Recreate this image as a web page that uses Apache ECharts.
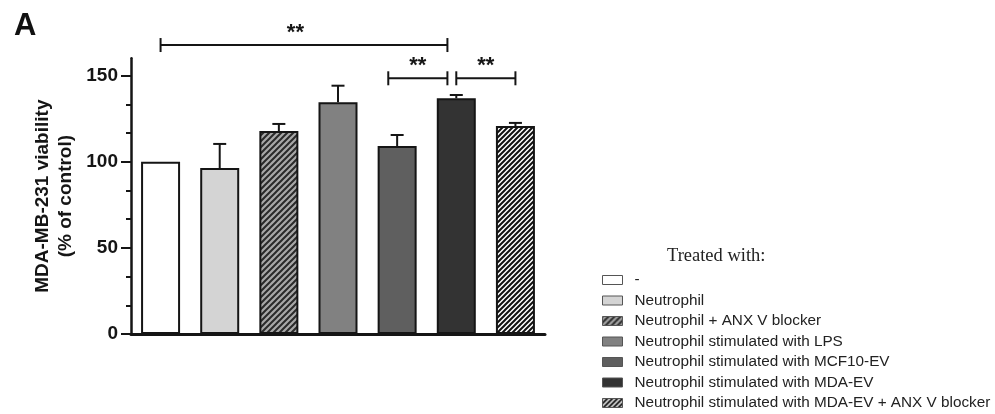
<!DOCTYPE html>
<html><head><meta charset="utf-8">
<script src="https://cdn.jsdelivr.net/npm/echarts@6/dist/echarts.min.js"></script>
<style>html,body{margin:0;padding:0;background:#fff}#c{width:995px;height:414px}</style>
</head><body><div id="c"></div>
<script>
const categories = ['-', 'Neutrophil', 'Neutrophil + ANX V blocker', 'Neutrophil stimulated with LPS', 'Neutrophil stimulated with MCF10-EV', 'Neutrophil stimulated with MDA-EV', 'Neutrophil stimulated with MDA-EV + ANX V blocker'];
const means = [100, 96.3, 117.8, 134.5, 109.1, 136.8, 120.7];
const errors = [null, 14.0, 4.1, 9.6, 6.4, 1.9, 1.8];
const yMajorTicks = [0, 50, 100, 150];
const yMinorTicks = [16.67, 33.33, 66.67, 83.33, 116.67, 133.33];
// [fromIndex, toIndex, y, labelIndex]
const brackets = [
  [0, 4.85, 167.7, 2.28],
  [3.85, 4.85, 148.4, 4.35],
  [5, 6, 148.4, 5.5]
];
const bracketLabels = ['**', '**', '**'];

function hatch(bg, fg, size, lw) {
  const c = document.createElement('canvas');
  c.width = c.height = size;
  const g = c.getContext('2d');
  g.fillStyle = bg; g.fillRect(0, 0, size, size);
  g.strokeStyle = fg; g.lineWidth = lw;
  g.beginPath();
  g.moveTo(-lw, lw); g.lineTo(lw, -lw);
  g.moveTo(-lw, size + lw); g.lineTo(size + lw, -lw);
  g.moveTo(size - lw, size + lw); g.lineTo(size + lw, size - lw);
  g.stroke();
  return { image: c, repeat: 'repeat' };
}
const fills = ['#ffffff', '#d4d4d4', hatch('#a8a8a8', '#2a2a2a', 6, 2), '#818181', '#5f5f5f', '#333333', hatch('#ffffff', '#111111', 5, 2)];
const ink = '#151515';
const FONT = 'Liberation Sans, Arial, sans-serif';

const barSeries = categories.map((name, i) => ({
  name, type: 'bar', stack: 'all', barWidth: 39, silent: true,
  data: means.map((v, j) => (j === i ? v : '-')),
  itemStyle: { color: fills[i], borderColor: ink, borderWidth: 2 }
}));

const errData = [];
means.forEach((v, i) => { if (errors[i] != null) errData.push([i, v, v + errors[i]]); });

const errSeries = {
  type: 'custom', silent: true, z: 5, data: errData,
  encode: { x: 0, y: [1, 2] },
  renderItem: (params, api) => {
    const b = api.coord([api.value(0), api.value(1)]);
    const t = api.coord([api.value(0), api.value(2)]);
    return { type: 'group', children: [
      { type: 'line', shape: { x1: b[0], y1: b[1], x2: t[0], y2: t[1] }, style: { stroke: ink, lineWidth: 2 } },
      { type: 'line', shape: { x1: t[0] - 6.5, y1: t[1], x2: t[0] + 6.5, y2: t[1] }, style: { stroke: ink, lineWidth: 2 } }
    ] };
  }
};

const bracketSeries = {
  type: 'custom', silent: true, clip: false, xAxisIndex: 1, z: 6, data: brackets,
  encode: { x: [0, 1, 3], y: 2 },
  renderItem: (params, api) => {
    const p0 = api.coord([api.value(0), api.value(2)]);
    const p1 = api.coord([api.value(1), api.value(2)]);
    const pl = api.coord([api.value(3), api.value(2)]);
    const s = { stroke: ink, lineWidth: 2 };
    return { type: 'group', children: [
      { type: 'line', shape: { x1: p0[0], y1: p0[1], x2: p1[0], y2: p1[1] }, style: s },
      { type: 'line', shape: { x1: p0[0], y1: p0[1] - 7, x2: p0[0], y2: p0[1] + 7 }, style: s },
      { type: 'line', shape: { x1: p1[0], y1: p1[1] - 7, x2: p1[0], y2: p1[1] + 7 }, style: s },
      { type: 'text', style: { text: bracketLabels[params.dataIndex], x: pl[0], y: pl[1] - 12, align: 'center', verticalAlign: 'middle', font: 'bold 22px ' + FONT, fill: ink } }
    ] };
  }
};

const chart = echarts.init(document.getElementById('c'), null, { renderer: 'canvas' });
chart.setOption({
  animation: false,
  backgroundColor: '#fff',
  title: { text: 'Treated with:', left: 662, top: 242, textStyle: { fontFamily: 'Liberation Serif, Times New Roman, serif', fontSize: 18.5, fontWeight: 'normal', color: '#222' } },
  graphic: [{ type: 'text', left: 14, top: 11, style: { text: 'A', font: 'bold 31px ' + FONT, fill: '#111' } }],
  legend: {
    orient: 'vertical', left: 597, top: 267, height: 160, itemWidth: 20, itemHeight: 9, itemGap: 4.5, icon: 'rect',
    selectedMode: false, data: categories,
    itemStyle: { borderColor: '#555', borderWidth: 1 },
    textStyle: { fontFamily: FONT, fontSize: 15.3, color: '#222', lineHeight: 16, padding: [0, 0, 0, 7] }
  },
  grid: { left: 131, right: 450, top: 58.3, bottom: 80, containLabel: false },
  xAxis: [
    { type: 'category', data: categories, position: 'bottom', axisLine: { onZero: false, lineStyle: { color: ink, width: 3 } }, axisTick: { show: false }, axisLabel: { show: false }, splitLine: { show: false } },
    { type: 'value', min: -0.5, max: 6.5, position: 'bottom', show: false, axisLine: { onZero: false } }
  ],
  yAxis: [
    { type: 'value', min: 0, max: 160, position: 'left',
      axisLine: { show: true, onZero: false, lineStyle: { color: ink, width: 2.5 } },
      axisTick: { show: true, customValues: yMajorTicks, length: 10, lineStyle: { color: ink, width: 2 } },
      axisLabel: { customValues: yMajorTicks, fontFamily: FONT, fontSize: 19, fontWeight: 'bold', color: ink, margin: 13 },
      splitLine: { show: false },
      name: 'MDA-MB-231 viability\n(% of control)', nameLocation: 'middle', nameGap: 54,
      nameTextStyle: { fontFamily: FONT, fontSize: 19, fontWeight: 'bold', color: ink, lineHeight: 23 } },
    { type: 'value', min: 0, max: 160, position: 'left',
      axisLine: { show: false, onZero: false }, axisLabel: { show: false }, splitLine: { show: false },
      axisTick: { show: true, customValues: yMinorTicks, length: 5, lineStyle: { color: ink, width: 2 } } }
  ],
  series: [...barSeries, errSeries, bracketSeries]
});
</script></body></html>
